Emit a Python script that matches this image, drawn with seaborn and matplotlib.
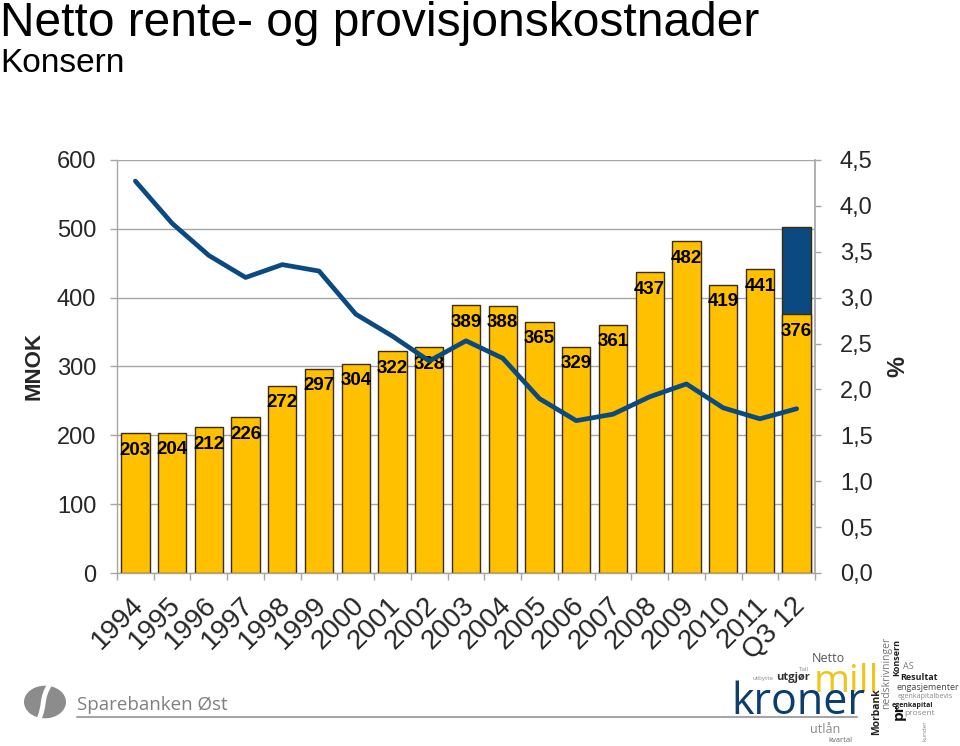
import numpy as np
import pandas as pd
import matplotlib
matplotlib.use("Agg")
import matplotlib.pyplot as plt
import matplotlib.transforms as mtransforms
import seaborn as sns
from matplotlib.patches import Circle, PathPatch
from matplotlib.path import Path

categories = ["1994", "1995", "1996", "1997", "1998", "1999", "2000", "2001", "2002",
              "2003", "2004", "2005", "2006", "2007", "2008", "2009", "2010", "2011", "Q3 12"]
cost_mnok = [203, 204, 212, 226, 272, 297, 304, 322, 328, 389, 388, 365, 329, 361, 437, 482, 419, 441, 376]
annualized_total = [np.nan] * 18 + [502]
percent = [4.27, 3.81, 3.46, 3.22, 3.36, 3.29, 2.82, 2.58, 2.31, 2.53, 2.34, 1.90, 1.66, 1.73,
           1.92, 2.06, 1.80, 1.68, 1.79]
left_ticks = [0, 100, 200, 300, 400, 500, 600]
right_ticks = [0.0, 0.5, 1.0, 1.5, 2.0, 2.5, 3.0, 3.5, 4.0, 4.5]

sns.set_theme(style="white")
plt.rcParams["font.family"] = ["Liberation Sans", "DejaVu Sans"]

YELLOW = "#FFC000"
EDGE = "#3B2C0A"
BLUE = "#0B4A80"
GRID = "#A6A6A6"

df = pd.DataFrame({"cat": categories, "val": cost_mnok, "tot": annualized_total,
                   "pct": percent, "pos": np.arange(len(categories))})

fig = plt.figure(figsize=(9.6, 7.46), dpi=100)
ax = fig.add_axes([117 / 960, 1 - 573 / 746, (815 - 117) / 960, (573 - 160) / 746])

sns.barplot(data=df, x="cat", y="tot", color=BLUE, saturation=1, width=0.77,
            edgecolor=EDGE, linewidth=1.0, ax=ax)
sns.barplot(data=df, x="cat", y="val", color=YELLOW, saturation=1, width=0.77,
            edgecolor=EDGE, linewidth=1.0, ax=ax)

ax.set_ylim(0, 600)
ax.set_xlim(-0.5, len(categories) - 0.5)
ax.set_yticks(left_ticks)
ax.set_yticklabels([str(t) for t in left_ticks], fontsize=17)
ax.yaxis.grid(True, color=GRID, linewidth=1)
ax.set_axisbelow(True)
ax.set_xlabel("")
ax.set_ylabel("MNOK", fontsize=16, fontweight="bold", labelpad=9)
for s in ["top", "right"]:
    ax.spines[s].set_visible(False)
for s in ["left", "bottom"]:
    ax.spines[s].set_color(GRID)
    ax.spines[s].set_linewidth(1)
ax.tick_params(axis="y", which="major", length=5, color=GRID, width=1, direction="out", pad=10, left=True)

# category ticks at boundaries
ax.set_xticks(np.arange(len(categories) + 1) - 0.5, minor=True)
ax.set_xticks(np.arange(len(categories)))
ax.set_xticklabels(categories, rotation=45, ha="right", va="top", rotation_mode="anchor", fontsize=20)
ax.tick_params(axis="x", which="major", length=0, pad=14)
ax.tick_params(axis="x", which="minor", length=5, color=GRID, width=1, bottom=True, direction="out")
shift = mtransforms.ScaledTranslation(-5 / 100, 0, fig.dpi_scale_trans)
for lbl in ax.get_xticklabels():
    lbl.set_transform(lbl.get_transform() + shift)

for i, v in enumerate(cost_mnok):
    ax.annotate(str(v), (i, v), xytext=(0, -17), textcoords="offset pixels",
                ha="center", va="center", fontsize=13.5, fontweight="bold", color="black", zorder=5)

ax2 = ax.twinx()
sns.lineplot(data=df, x="pos", y="pct", color=BLUE, linewidth=3.4, ax=ax2, zorder=4)
ax2.set_ylim(0, 4.5)
ax2.set_yticks(right_ticks)
ax2.set_yticklabels([f"{t:.1f}".replace(".", ",") for t in right_ticks], fontsize=17)
ax2.set_ylabel("%", fontsize=17, fontweight="bold", labelpad=10)
for s in ["top", "left", "bottom"]:
    ax2.spines[s].set_visible(False)
ax2.spines["right"].set_color(GRID)
ax2.tick_params(axis="y", length=4.5, color=GRID, width=1, direction="out", pad=13.5, right=True)
ax2.grid(False)
ax2.set_xlabel("")
ax2.set_xlim(-0.5, len(categories) - 0.5)

# titles
fig.text(0.0, 1 - 1 / 746, "Netto rente- og provisjonskostnader", fontsize=34.5, va="top", ha="left", color="black")
fig.text(0.0, 1 - 48 / 746, "Konsern", fontsize=24, va="top", ha="left", color="black")

# footer: logo and line
W, H = 960.0, 746.0
fig.add_artist(Circle((45 / W, 1 - 702 / H), 21 / W, transform=fig.transFigure,
                      facecolor="#8C8C8C", edgecolor="none"))
logo_curve = Path([(50 / W, 1 - 684 / H), (40 / W, 1 - 700 / H), (46 / W, 1 - 705 / H), (38 / W, 1 - 721 / H)],
                  [Path.MOVETO, Path.CURVE4, Path.CURVE4, Path.CURVE4])
fig.add_artist(PathPatch(logo_curve, transform=fig.transFigure, facecolor="none", edgecolor="white", linewidth=3.5))
fig.text(77 / W, 1 - 705 / H, "Sparebanken Øst", fontsize=13.5, color="#7F7F7F", ha="left", va="center",
         family=["Open Sans", "DejaVu Sans"])
fig.add_artist(plt.Line2D([77 / W, 857 / W], [1 - 717 / H, 1 - 717 / H], transform=fig.transFigure,
                          color="#A6A6A6", linewidth=1.5))

# word cloud (decorative text): word, x, y(baseline), size, colour, rotation, weight
wc_words = [
    ("mill", 846, 692, 28, "#F0C419", 0, "normal"),
    ("kroner", 798, 714, 31, "#0B3D6E", 0, "normal"),
    ("Netto", 828, 662, 9, "#555555", 0, "normal"),
    ("utgjør", 793, 680, 8, "#333333", 0, "bold"),
    ("utbytte", 763, 680, 4.5, "#888888", 0, "normal"),
    ("Tall", 804, 671, 4.5, "#888888", 0, "normal"),
    ("utlån", 825, 733, 9, "#888888", 0, "normal"),
    ("kvartal", 840, 742, 5.5, "#666666", 0, "normal"),
    ("AS", 908, 669, 6.5, "#777777", 0, "normal"),
    ("Resultat", 919, 680, 6.5, "#222222", 0, "bold"),
    ("engasjementer", 928, 690, 6.5, "#444444", 0, "normal"),
    ("egenkapitalbevis", 925, 698, 5, "#888888", 0, "normal"),
    ("egenkapital", 912, 707, 5, "#222222", 0, "bold"),
    ("prosent", 920, 715, 6, "#888888", 0, "normal"),
]
for txt, x, y, fs, col, rot, fw in wc_words:
    fig.text(x / W, 1 - y / H, txt, fontsize=fs, color=col, rotation=rot, ha="center", va="baseline",
             fontweight=fw, family=["Open Sans", "DejaVu Sans"])

wc_vertical = [
    ("Morbank", 877, 712, 7.5, "#222222", "bold"),
    ("nedskrivninger", 887, 673, 7.5, "#777777", "normal"),
    ("pr", 899, 712, 11, "#111111", "bold"),
    ("Konsern", 897, 657, 6.5, "#222222", "bold"),
    ("kunder", 925, 731, 4.5, "#888888", "normal"),
]
for txt, x, y, fs, col, fw in wc_vertical:
    fig.text(x / W, 1 - y / H, txt, fontsize=fs, color=col, rotation=90, ha="center", va="center",
             fontweight=fw, family=["Open Sans", "DejaVu Sans"])

fig.savefig("out.png", dpi=100)
